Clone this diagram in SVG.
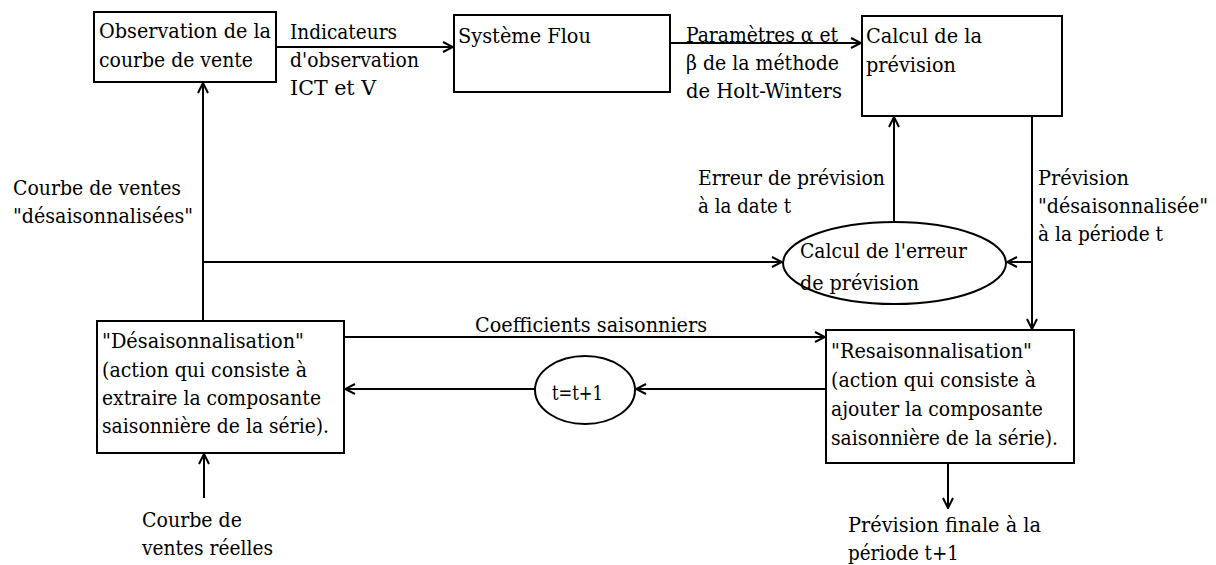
<svg xmlns="http://www.w3.org/2000/svg" width="1216" height="565" viewBox="0 0 1216 565">
<defs>
<marker id="arr" viewBox="0 0 12 12" refX="11" refY="6" markerWidth="12" markerHeight="12" markerUnits="userSpaceOnUse" orient="auto">
<path d="M1,1 L11,6 L1,11" fill="none" stroke="#000" stroke-width="2"/>
</marker>
<style>
.n{fill:#fff;stroke:#000;stroke-width:2}
.c{fill:none;stroke:#000;stroke-width:2}
.a{marker-end:url(#arr)}
text{font-family:'DejaVu Serif Condensed','DejaVu Serif','Liberation Serif','Times New Roman',serif;font-stretch:condensed;font-size:21px;fill:#000}
</style>
</defs>
<rect width="1216" height="565" fill="#fff"/>
<g id="connectors">
<line class="c a" x1="276" y1="47" x2="453" y2="47"/>
<line class="c a" x1="670" y1="43" x2="861" y2="43"/>
<line class="c a" x1="203" y1="321" x2="203" y2="83"/>
<line class="c a" x1="203" y1="262" x2="782" y2="262"/>
<line class="c a" x1="894" y1="222" x2="894" y2="117"/>
<line class="c" x1="1032" y1="116" x2="1032" y2="262"/>
<line class="c a" x1="1032" y1="262" x2="1007" y2="262"/>
<line class="c a" x1="1032" y1="262" x2="1032" y2="329"/>
<line class="c a" x1="344" y1="337" x2="825" y2="337"/>
<line class="c a" x1="826" y1="389" x2="636" y2="389"/>
<line class="c a" x1="535" y1="389" x2="345" y2="389"/>
<line class="c a" x1="948" y1="463" x2="948" y2="508"/>
<line class="c a" x1="204" y1="498" x2="204" y2="454"/>
<text x="290" y="39" textLength="107" lengthAdjust="spacingAndGlyphs">Indicateurs</text>
<text x="290" y="67" textLength="129" lengthAdjust="spacingAndGlyphs">d'observation</text>
<text x="290" y="95" textLength="86" lengthAdjust="spacingAndGlyphs">ICT et V</text>
<text x="686" y="42" textLength="152" lengthAdjust="spacingAndGlyphs">Paramètres α et</text>
<text x="686" y="70" textLength="153" lengthAdjust="spacingAndGlyphs">β de la méthode</text>
<text x="686" y="98" textLength="156" lengthAdjust="spacingAndGlyphs">de Holt-Winters</text>
<text x="13" y="195" textLength="168" lengthAdjust="spacingAndGlyphs">Courbe de ventes</text>
<text x="13" y="223" textLength="180" lengthAdjust="spacingAndGlyphs">"désaisonnalisées"</text>
<text x="698" y="185" textLength="187" lengthAdjust="spacingAndGlyphs">Erreur de prévision</text>
<text x="698" y="213" textLength="93" lengthAdjust="spacingAndGlyphs">à la date t</text>
<text x="1038" y="185" textLength="91" lengthAdjust="spacingAndGlyphs">Prévision</text>
<text x="1038" y="213" textLength="170" lengthAdjust="spacingAndGlyphs">"désaisonnalisée"</text>
<text x="1038" y="241" textLength="125" lengthAdjust="spacingAndGlyphs">à la période t</text>
<text x="475" y="332" textLength="232" lengthAdjust="spacingAndGlyphs">Coefficients saisonniers</text>
<text x="142" y="527" textLength="100" lengthAdjust="spacingAndGlyphs">Courbe de</text>
<text x="142" y="555" textLength="131" lengthAdjust="spacingAndGlyphs">ventes réelles</text>
<text x="848" y="532" textLength="193" lengthAdjust="spacingAndGlyphs">Prévision finale à la</text>
<text x="848" y="560" textLength="111" lengthAdjust="spacingAndGlyphs">période t+1</text>
</g>
<g id="observation">
<rect class="n" x="94" y="12" width="182" height="70"/>
<text x="99" y="38" textLength="172" lengthAdjust="spacingAndGlyphs">Observation de la</text>
<text x="99" y="67" textLength="154" lengthAdjust="spacingAndGlyphs">courbe de vente</text>
</g>
<g id="systeme-flou">
<rect class="n" x="454" y="15" width="216" height="77"/>
<text x="458" y="43" textLength="133" lengthAdjust="spacingAndGlyphs">Système Flou</text>
</g>
<g id="calcul-prevision">
<rect class="n" x="862" y="16" width="200" height="100"/>
<text x="866" y="43" textLength="116" lengthAdjust="spacingAndGlyphs">Calcul de la</text>
<text x="866" y="72" textLength="90" lengthAdjust="spacingAndGlyphs">prévision</text>
</g>
<g id="calcul-erreur">
<ellipse class="n" cx="894.5" cy="263" rx="111.5" ry="41"/>
<text x="800" y="258" textLength="167" lengthAdjust="spacingAndGlyphs">Calcul de l'erreur</text>
<text x="800" y="290" textLength="119" lengthAdjust="spacingAndGlyphs">de prévision</text>
</g>
<g id="desaisonnalisation">
<rect class="n" x="97" y="321" width="247" height="132"/>
<text x="102" y="348" textLength="202" lengthAdjust="spacingAndGlyphs">"Désaisonnalisation"</text>
<text x="102" y="377" textLength="205" lengthAdjust="spacingAndGlyphs">(action qui consiste à</text>
<text x="102" y="405" textLength="219" lengthAdjust="spacingAndGlyphs">extraire la composante</text>
<text x="102" y="433" textLength="227" lengthAdjust="spacingAndGlyphs">saisonnière de la série).</text>
</g>
<g id="t-increment">
<ellipse class="n" cx="585" cy="390" rx="50" ry="34"/>
<text x="552" y="400" textLength="51" lengthAdjust="spacingAndGlyphs">t=t+1</text>
</g>
<g id="resaisonnalisation">
<rect class="n" x="826" y="330" width="248" height="133"/>
<text x="831" y="358" textLength="201" lengthAdjust="spacingAndGlyphs">"Resaisonnalisation"</text>
<text x="831" y="387" textLength="205" lengthAdjust="spacingAndGlyphs">(action qui consiste à</text>
<text x="831" y="416" textLength="212" lengthAdjust="spacingAndGlyphs">ajouter la composante</text>
<text x="831" y="445" textLength="227" lengthAdjust="spacingAndGlyphs">saisonnière de la série).</text>
</g>
</svg>
